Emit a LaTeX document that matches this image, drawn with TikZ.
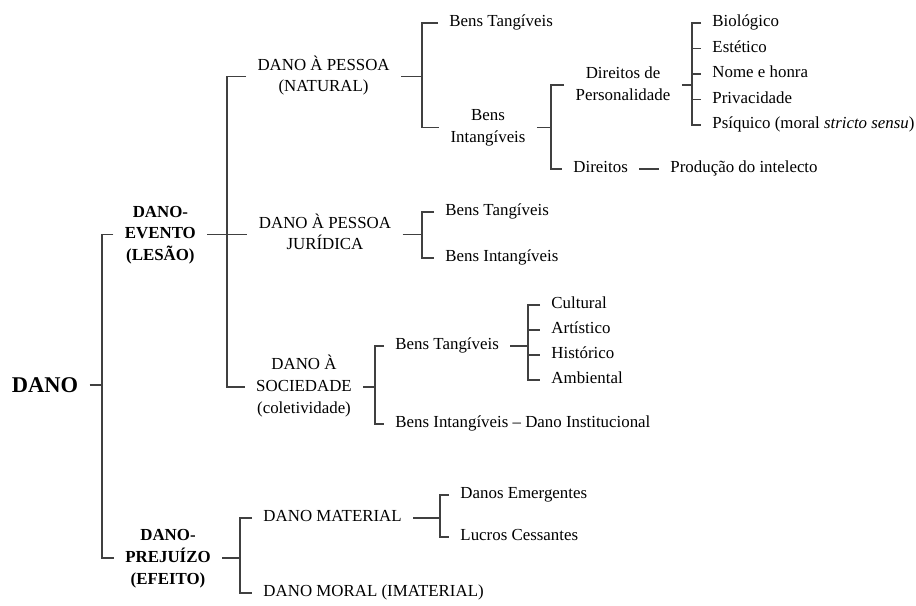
\documentclass[tikz,border=0pt]{standalone}
\usepackage{fontspec}
\setmainfont{Liberation Serif}
\setlength{\tabcolsep}{0pt}
\begin{document}
\begin{tikzpicture}[every node/.style={inner xsep=0.28cm, inner ysep=1pt, font=\fontsize{12}{15.5}\selectfont},
  forte/.style={font=\fontsize{12}{15.5}\selectfont\bfseries},
  folha/.style={anchor=west, text height=1.6ex, text depth=0.4ex},
  ramo/.style={line width=0.8pt, black!75}]
\useasboundingbox (0,0) rectangle (22.9,15.125);
\begin{scope}
% DANO
\node (D) at (1.125,5.5) [font=\fontsize{16}{19}\selectfont\bfseries] {DANO};
\node (DE) at (4.01,9.26) [forte] {\begin{tabular}{c}DANO-\\ EVENTO\\ (LESÃO)\end{tabular}};
\node (DP) at (4.2,1.175) [forte] {\begin{tabular}{c}DANO-\\ PREJUÍZO\\ (EFEITO)\end{tabular}};
\coordinate (J0) at (2.55,5.5);
\draw[ramo] (D) -- (J0);
\draw[ramo] (DE.west) -| (J0) |- (DP.west);
% dano-evento
\node (DPN) at (8.09,13.21) {\begin{tabular}{c}DANO À PESSOA\\ (NATURAL)\end{tabular}};
\node (DPJ) at (8.125,9.26) {\begin{tabular}{c}DANO À PESSOA\\ JURÍDICA\end{tabular}};
\node (DS) at (7.6,5.45) {\begin{tabular}{c}DANO À\\ SOCIEDADE\\ (coletividade)\end{tabular}};
\coordinate (J1) at (5.675,9.26);
\draw[ramo] (DE) -- (DPJ);
\draw[ramo] (DPN.west) -| (J1) |- (DS.west);
% pessoa natural
\node (BT1) at (10.95,14.55) [folha] {Bens Tangíveis};
\node (BI1) at (12.2,11.94) {\begin{tabular}{c}Bens\\ Intangíveis\end{tabular}};
\coordinate (J2) at (10.55,13.21);
\draw[ramo] (DPN) -- (J2);
\draw[ramo] (BT1.west) -| (J2) |- (BI1.west);
\node (DPERS) at (15.575,13.0) {\begin{tabular}{c}Direitos de\\ Personalidade\end{tabular}};
\node (DIR) at (14.05,10.9) [folha] {Direitos};
\node (PROD) at (16.475,10.9) [folha] {Produção do intelecto};
\coordinate (J3) at (13.775,11.94);
\draw[ramo] (BI1) -- (J3);
\draw[ramo] (DPERS.west) -| (J3) |- (DIR.west);
\draw[ramo] (DIR) -- (PROD);
\node (BIO) at (17.525,14.55) [folha] {Biológico};
\node (EST) at (17.525,13.91) [folha] {Estético};
\node (NOM) at (17.525,13.275) [folha] {Nome e honra};
\node (PRIV) at (17.525,12.64) [folha] {Privacidade};
\node (PSI) at (17.525,12.0) [folha] {Psíquico (moral \textit{stricto sensu})};
\coordinate (J4) at (17.3,13.0);
\draw[ramo] (DPERS) -- (J4);
\draw[ramo] (BIO.west) -| (J4) |- (PSI.west);
\draw[ramo] (J4 |- EST.west) -- (EST.west);
\draw[ramo] (J4 |- NOM.west) -- (NOM.west);
\draw[ramo] (J4 |- PRIV.west) -- (PRIV.west);
% pessoa juridica
\node (BT2) at (10.85,9.825) [folha] {Bens Tangíveis};
\node (BI2) at (10.85,8.675) [folha] {Bens Intangíveis};
\coordinate (J5) at (10.55,9.26);
\draw[ramo] (DPJ) -- (J5);
\draw[ramo] (BT2.west) -| (J5) |- (BI2.west);
% sociedade
\node (BT3) at (9.6,6.475) [folha] {Bens Tangíveis};
\node (BI3) at (9.6,4.525) [folha] {Bens Intangíveis – Dano Institucional};
\coordinate (J6) at (9.375,5.45);
\draw[ramo] (DS) -- (J6);
\draw[ramo] (BT3.west) -| (J6) |- (BI3.west);
\node (CUL) at (13.5,7.5) [folha] {Cultural};
\node (ART) at (13.5,6.875) [folha] {Artístico};
\node (HIS) at (13.5,6.25) [folha] {Histórico};
\node (AMB) at (13.5,5.625) [folha] {Ambiental};
\coordinate (J7) at (13.2,6.475);
\draw[ramo] (BT3) -- (J7);
\draw[ramo] (CUL.west) -| (J7) |- (AMB.west);
\draw[ramo] (J7 |- ART.west) -- (ART.west);
\draw[ramo] (J7 |- HIS.west) -- (HIS.west);
% dano-prejuizo
\node (DM) at (6.3,2.175) [folha] {DANO MATERIAL};
\node (DMO) at (6.3,0.3) [folha] {DANO MORAL (IMATERIAL)};
\coordinate (J8) at (6.0,1.175);
\draw[ramo] (DP) -- (J8);
\draw[ramo] (DM.west) -| (J8) |- (DMO.west);
\node (EMERG) at (11.225,2.75) [folha] {Danos Emergentes};
\node (LUCR) at (11.225,1.7) [folha] {Lucros Cessantes};
\coordinate (J9) at (11.0,2.175);
\draw[ramo] (DM) -- (J9);
\draw[ramo] (EMERG.west) -| (J9) |- (LUCR.west);
\end{scope}
\end{tikzpicture}
\end{document}
